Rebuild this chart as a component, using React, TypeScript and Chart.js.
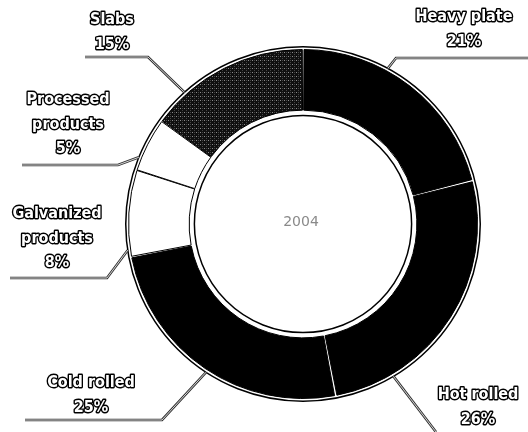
import React, { useEffect, useRef } from "react";
import { Chart, registerables } from "chart.js";

Chart.register(...registerables);

const categories = ["Heavy plate", "Hot rolled", "Cold rolled", "Galvanized products", "Processed products", "Slabs"];
const shares = [21, 26, 25, 8, 5, 15];
const labelLines = [
  ["Heavy plate", "21%"],
  ["Hot rolled", "26%"],
  ["Cold rolled", "25%"],
  ["Galvanized", "products", "8%"],
  ["Processed", "products", "5%"],
  ["Slabs", "15%"],
];
const centerLabel = "2004";

// layout: text centre x, first line y, leader anchor angle (deg clockwise from top), elbow, horizontal end
const labelLayout = [
  { x: 464, y: 17, angle: 28.6, elbow: [396, 58], end: [528, 58] },
  { x: 478, y: 395, angle: 149.3, elbow: [436, 432], end: [436, 432] },
  { x: 91, y: 383, angle: 213.2, elbow: [162, 420], end: [25, 420] },
  { x: 57, y: 214, angle: 261.5, elbow: [107, 278], end: [10, 278] },
  { x: 68, y: 100, angle: 292.1, elbow: [118, 165], end: [22, 165] },
  { x: 112, y: 20, angle: 318, elbow: [148, 57], end: [85, 57] },
];

function makePattern(): CanvasPattern | string {
  const c = document.createElement("canvas");
  c.width = 4;
  c.height = 4;
  const g = c.getContext("2d");
  if (!g) return "#2a2a2a";
  g.fillStyle = "#101010";
  g.fillRect(0, 0, 4, 4);
  g.fillStyle = "#8a8a8a";
  g.fillRect(0, 0, 1, 1);
  g.fillStyle = "#444";
  g.fillRect(2, 2, 1, 1);
  g.fillRect(2, 0, 1, 1);
  const p = g.createPattern(c, "repeat");
  return p || "#2a2a2a";
}

const overlay = {
  id: "overlay",
  afterDatasetsDraw(chart: any) {
    const ctx = chart.ctx as CanvasRenderingContext2D;
    const arc = chart.getDatasetMeta(0).data[0] as any;
    if (!arc) return;
    const cx = arc.x, cy = arc.y;
    const outer = arc.outerRadius, inner = arc.innerRadius;
    ctx.save();
    // ring outlines
    ctx.strokeStyle = "#000";
    ctx.lineWidth = 1.5;
    ctx.beginPath();
    ctx.arc(cx, cy, outer + 4, 0, Math.PI * 2);
    ctx.stroke();
    ctx.beginPath();
    ctx.arc(cx, cy, inner - 4, 0, Math.PI * 2);
    ctx.stroke();

    // center label
    ctx.fillStyle = "#8a8a8a";
    ctx.font = '14px "DejaVu Sans"';
    ctx.textAlign = "center";
    ctx.textBaseline = "middle";
    ctx.fillText(centerLabel, cx - 2, cy - 2);

    // leaders + labels
    labelLayout.forEach((L, i) => {
      const a = (L.angle * Math.PI) / 180;
      const r = outer + 4;
      const ax = cx + r * Math.sin(a);
      const ay = cy - r * Math.cos(a);
      const path = () => {
        ctx.beginPath();
        ctx.moveTo(ax, ay);
        ctx.lineTo(L.elbow[0], L.elbow[1]);
        ctx.lineTo(L.end[0], L.end[1]);
      };
      ctx.lineJoin = "miter";
      ctx.strokeStyle = "#333";
      ctx.lineWidth = 2.6;
      path();
      ctx.stroke();
      ctx.strokeStyle = "#fff";
      ctx.lineWidth = 0.8;
      path();
      ctx.stroke();

      ctx.font = 'bold 16px "DejaVu Sans Condensed", "DejaVu Sans", sans-serif';
      ctx.textAlign = "center";
      ctx.textBaseline = "middle";
      ctx.lineJoin = "round";
      labelLines[i].forEach((t, k) => {
        const ty = L.y + k * 24.5;
        ctx.strokeStyle = "#000";
        ctx.lineWidth = 2.8;
        ctx.strokeText(t, L.x, ty);
        ctx.fillStyle = "#fff";
        ctx.fillText(t, L.x, ty);
      });
    });
    ctx.restore();
  },
};

export default function App() {
  const ref = useRef<HTMLCanvasElement | null>(null);
  useEffect(() => {
    document.body.style.margin = "0";
    if (!ref.current) return;
    const pattern = makePattern();
    const chart = new Chart(ref.current, {
      type: "doughnut",
      data: {
        labels: categories,
        datasets: [
          {
            data: shares,
            backgroundColor: ["#000", "#000", "#000", "#fff", "#fff", pattern as any],
            borderColor: "#000",
            borderWidth: 1,
            spacing: 2.5,
          } as any,
        ],
      },
      options: {
        responsive: false,
        animation: false,
        cutout: "65%",
        layout: { padding: { top: 48, bottom: 32, left: 128, right: 50 } },
        plugins: { legend: { display: false }, tooltip: { enabled: false } },
      },
      plugins: [overlay],
    });
    return () => chart.destroy();
  }, []);
  return (
    <div style={{ position: "absolute", left: 0, top: 0, width: 528, height: 432, background: "#fff" }}>
      <canvas ref={ref} width={528} height={432} />
    </div>
  );
}
